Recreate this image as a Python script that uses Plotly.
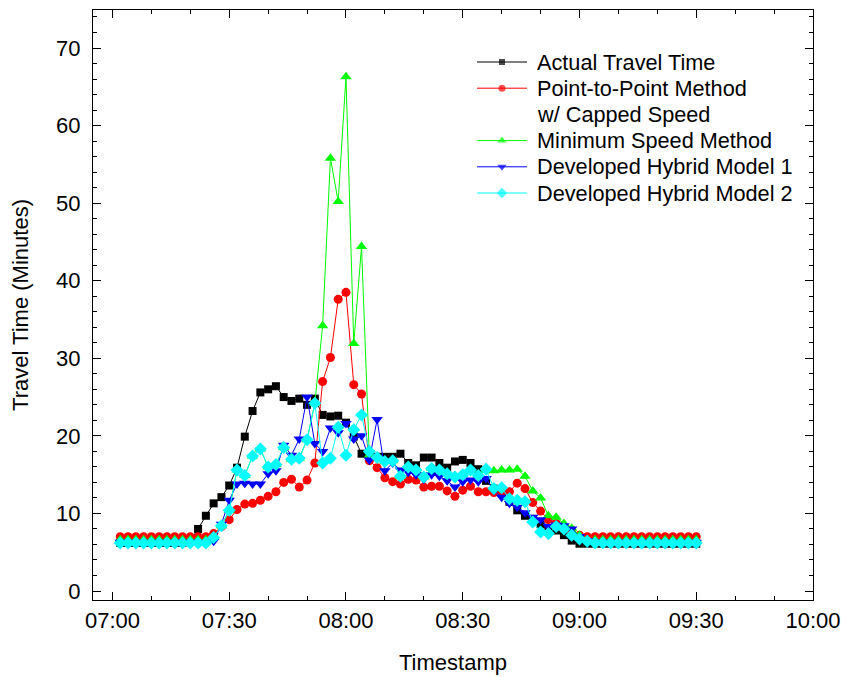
import pandas as pd
import plotly.graph_objects as go

# Sampling times: every 2 minutes from 07:02 to 09:30
times = pd.date_range("2000-01-01 07:02", "2000-01-01 09:30", freq="2min")

actual = [6.2, 6.2, 6.2, 6.2, 6.2, 6.2, 6.2, 6.2, 6.2, 6.4,
          8.0, 9.7, 11.3, 12.1, 13.6, 15.9, 19.9, 23.2, 25.6, 26.0,
          26.4, 25.0, 24.5, 24.8, 24.0, 24.8, 22.7, 22.5, 22.6, 21.7,
          19.9, 17.7, 17.2, 17.3, 17.3, 17.3, 17.7, 16.5, 16.2, 17.2,
          17.2, 16.5, 15.9, 16.7, 16.9, 16.5, 15.7, 14.2, 13.2, 12.6,
          11.5, 10.4, 9.7, 9.3, 8.6, 8.0, 7.8, 7.2, 6.5, 6.1,
          6.1, 6.1, 6.1, 6.1, 6.1, 6.1, 6.1, 6.1, 6.1, 6.1,
          6.1, 6.1, 6.1, 6.1, 6.1]

point_to_point = [7.0, 7.0, 7.0, 7.0, 7.0, 7.0, 7.0, 7.0, 7.0, 7.0,
                  7.0, 7.0, 7.4, 8.3, 9.2, 10.5, 11.2, 11.3, 11.7, 12.2,
                  12.8, 14.0, 14.4, 13.4, 14.3, 16.5, 27.0, 30.1, 37.6, 38.5,
                  26.6, 25.4, 16.8, 15.9, 14.6, 14.1, 13.8, 14.4, 14.3, 13.4,
                  13.5, 13.5, 12.9, 12.2, 13.0, 13.5, 12.8, 12.8, 12.7, 12.6,
                  12.8, 13.9, 13.2, 11.4, 10.3, 9.2, 8.7, 8.0, 7.6, 7.2,
                  7.0, 7.0, 7.0, 7.0, 7.0, 7.0, 7.0, 7.0, 7.0, 7.0,
                  7.0, 7.0, 7.0, 7.0, 7.0]

minimum_speed = [6.6, 6.6, 6.6, 6.6, 6.6, 6.6, 6.6, 6.6, 6.6, 6.6,
                 6.6, 6.6, 6.9, 8.4, 10.4, 15.6, 14.9, 17.4, 18.3, 16.0,
                 16.3, 18.5, 17.0, 17.1, 19.5, 24.2, 34.2, 55.8, 50.2, 66.3,
                 31.9, 44.4, 17.5, 17.2, 16.7, 16.8, 14.8, 16.0, 15.6, 14.7,
                 15.8, 15.6, 15.1, 14.7, 15.0, 15.6, 14.9, 15.6, 15.5, 15.6,
                 15.6, 15.7, 14.8, 12.9, 12.0, 9.7, 9.5, 8.7, 8.1, 7.2,
                 6.6, 6.6, 6.6, 6.6, 6.6, 6.6, 6.6, 6.6, 6.6, 6.6,
                 6.6, 6.6, 6.6, 6.6, 6.6]

hybrid_1 = [6.3, 6.3, 6.3, 6.3, 6.3, 6.3, 6.3, 6.3, 6.3, 6.3,
            6.3, 6.3, 6.4, 8.6, 11.7, 13.8, 13.9, 13.8, 13.8, 15.1,
            15.5, 18.8, 17.5, 19.6, 25.0, 19.0, 18.0, 21.0, 20.4, 21.6,
            19.6, 20.0, 16.9, 22.1, 15.5, 16.5, 15.6, 15.3, 15.0, 14.4,
            15.0, 14.8, 14.2, 13.4, 14.1, 14.3, 14.1, 14.5, 13.0, 12.1,
            11.3, 10.8, 10.1, 9.5, 9.2, 8.3, 8.5, 8.4, 8.0, 7.0,
            6.5, 6.3, 6.3, 6.3, 6.3, 6.3, 6.3, 6.3, 6.3, 6.3,
            6.3, 6.3, 6.3, 6.3, 6.3]

hybrid_2 = [6.2, 6.2, 6.2, 6.2, 6.2, 6.2, 6.2, 6.2, 6.2, 6.2,
            6.2, 6.2, 6.9, 8.4, 10.4, 15.6, 14.9, 17.4, 18.3, 16.0,
            16.3, 18.5, 17.0, 17.1, 19.5, 24.2, 16.5, 17.1, 21.1, 17.5,
            20.8, 22.7, 18.0, 17.2, 16.7, 16.8, 14.8, 16.0, 15.6, 14.7,
            15.8, 15.6, 15.1, 14.7, 15.0, 15.6, 14.9, 15.7, 13.2, 13.3,
            11.9, 11.7, 11.5, 8.9, 7.6, 7.4, 8.3, 8.0, 7.2, 6.7,
            6.4, 6.2, 6.2, 6.2, 6.2, 6.2, 6.2, 6.2, 6.2, 6.2,
            6.2, 6.2, 6.2, 6.2, 6.2]

# (legend lines, values, colour, marker symbol, marker size)
series = [
    (["Actual Travel Time"], actual, "#000000", "square", 8),
    (["Point-to-Point Method", "w/ Capped Speed"], point_to_point, "#ff0000", "circle", 9),
    (["Minimum Speed Method"], minimum_speed, "#00ff00", "triangle-up", 10),
    (["Developed Hybrid Model 1"], hybrid_1, "#0000ff", "triangle-down", 10),
    (["Developed Hybrid Model 2"], hybrid_2, "#00ffff", "diamond", 10),
]

W, H = 853, 677
M_L, M_R, M_T, M_B = 93, 40, 10, 77
PLOT_W = W - M_L - M_R
PLOT_H = H - M_T - M_B

def px_to_paper(px, py):
    return (px - M_L) / PLOT_W, (H - M_B - py) / PLOT_H

font_family = "Liberation Sans, Arial, sans-serif"

fig = go.Figure()
for lines, values, color, symbol, size in series:
    fig.add_trace(go.Scatter(
        x=times, y=values, name=" ".join(lines), mode="lines+markers",
        line=dict(color=color, width=1),
        marker=dict(color=color, symbol=symbol, size=size, line=dict(width=0)),
        showlegend=False,
    ))

# Key in the upper right of the plot area (drawn on an overlay axis in
# plot-fraction units, so rows can sit closer together than the built-in legend)
KEY_X0, KEY_X1, KEY_TEXT_X = 477, 527, 535
KEY_ROW_Y0, KEY_ROW_STEP = 62, 26.2
annotations = []
row = 0
for lines, values, color, symbol, size in series:
    py = KEY_ROW_Y0 + row * KEY_ROW_STEP
    x0, y0 = px_to_paper(KEY_X0, py)
    x1, _ = px_to_paper(KEY_X1, py)
    fig.add_trace(go.Scatter(
        x=[x0, (x0 + x1) / 2, x1], y=[y0, y0, y0],
        xaxis="x2", yaxis="y2", mode="lines+markers",
        line=dict(color=color, width=1),
        marker=dict(color=color, symbol=symbol, size=[0, size - 2, 0], line=dict(width=0)),
        showlegend=False, hoverinfo="skip",
    ))
    for k, text in enumerate(lines):
        tx, ty = px_to_paper(KEY_TEXT_X, py + k * KEY_ROW_STEP)
        annotations.append(dict(
            x=tx, y=ty, xref="paper", yref="paper", text=text, showarrow=False,
            xanchor="left", yanchor="middle",
            font=dict(family=font_family, size=21.7, color="black"),
        ))
    row += len(lines)

axis_common = dict(
    showline=True, linecolor="black", linewidth=1, mirror="ticks",
    ticks="inside", ticklen=8, tickwidth=1, tickcolor="black",
    showgrid=False, zeroline=False, automargin=False,
    tickfont=dict(family=font_family, size=22, color="black"),
    minor=dict(ticks="inside", ticklen=4, tickcolor="black", tickwidth=1),
)

fig.update_xaxes(
    type="date",
    range=["2000-01-01 06:55", "2000-01-01 10:00"],
    tickformat="%H:%M",
    dtick=30 * 60 * 1000,
    tick0="2000-01-01 07:00",
    ticklabelstandoff=1,
    title=dict(text="Timestamp", font=dict(family=font_family, size=22, color="black"),
               standoff=22),
    **axis_common,
)
fig.update_yaxes(
    range=[-1.16, 74.9],
    dtick=10,
    ticklabelstandoff=7,
    title=dict(text="Travel Time (Minutes)", font=dict(family=font_family, size=22, color="black"),
               standoff=21),
    **axis_common,
)

fig.update_layout(
    width=W, height=H,
    margin=dict(l=M_L, r=M_R, t=M_T, b=M_B),
    paper_bgcolor="white", plot_bgcolor="white",
    font=dict(family=font_family, color="black"),
    xaxis2=dict(overlaying="x", range=[0, 1], visible=False, fixedrange=True),
    yaxis2=dict(overlaying="y", range=[0, 1], visible=False, fixedrange=True),
    annotations=annotations,
    showlegend=False,
)

fig.write_html("out.html")
